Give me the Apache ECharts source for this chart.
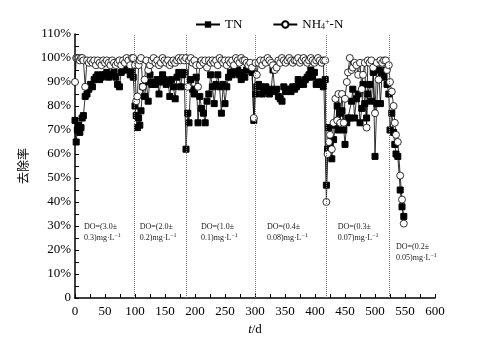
<!DOCTYPE html>
<html><head><meta charset="utf-8">
<script src="https://cdn.jsdelivr.net/npm/echarts@6/dist/echarts.min.js"></script>
<style>html,body{margin:0;padding:0;background:#fff}#c{width:498px;height:348px}</style>
</head><body><div id="c"></div>
<script>
// Section 1: DO 3.0
const days1 = [0,2,4,6,8,10,12,14,17,20,23,26,29,32,35,38,41,44,47,50,53,56,59,62,65,68,71,74,77,80,83,86,89,92,95,97];
const tn1   = [74,65,70,72,69,71,75,76,84,85,87,89,88,91,92,93,91,92,93,93,94,92,93,93,94,92,89,88,94,95,96,95,96,93,95,92];
const nh1   = [90,100,100,100,99,100,100,99,88,99,98,99,98,99,97,99,98,97,99,98,99,98,97,99,98,97,98,99,97,99,98,100,99,97,100,100];
// Section 2: DO 2.0
const days2 = [100,102,104,106,108,110,113,116,119,122,125,128,131,134,137,140,143,146,149,152,155,158,161,164,167,170,173,176,179,182,185];
const tn2   = [80,76,71,75,72,78,88,84,90,82,93,89,90,89,91,85,90,93,91,89,90,84,91,88,83,92,94,88,93,94,62];
const nh2   = [97,82,84,97,99,100,88,91,99,95,97,99,100,98,99,97,98,100,99,98,99,97,98,99,98,99,100,99,100,99,100];
// Section 3: DO 1.0
const days3 = [188,190,193,196,199,202,205,208,211,214,217,220,223,226,229,232,235,238,241,244,247,250,253,256,259,262,265,268,271,274,277,280,283,286,289,292,295,298];
const tn3   = [77,73,91,87,85,92,73,84,79,77,73,82,85,93,88,81,89,93,88,77,89,81,88,92,94,93,95,94,95,93,91,94,92,95,96,95,94,74];
const nh3   = [88,99,100,98,99,97,88,97,99,98,99,96,99,98,99,98,99,97,100,99,98,99,97,99,98,99,97,100,99,98,100,99,99,98,97,98,96,75];
// Section 4: DO 0.4
const days4 = [301,303,306,309,312,315,318,321,324,327,330,333,336,339,342,345,348,351,354,357,360,363,366,369,372,375,378,381,384,387,390,393,396,399,402,405,408,411,414,417];
const tn4   = [85,88,89,88,85,87,88,86,85,87,95,86,87,84,83,82,88,86,87,87,86,88,87,88,91,89,90,89,91,92,93,95,92,94,89,90,89,90,88,91];
const nh4s4 = [98,93,98,99,97,99,98,100,99,98,97,95,96,99,98,100,99,98,99,100,99,98,99,99,100,98,99,100,99,98,99,100,99,98,99,100,99,98,99,99];
// Section 5: DO 0.3
const days5 = [419,421,423,425,428,431,434,437,439,442,445,448,450,453,455,458,461,463,466,469,472,475,478,480,483,486,488,491,494,497,500,503,506,509,512,515,518,520,523];
const tn5   = [47,62,71,64,58,66,72,80,70,77,78,70,64,73,75,75,82,87,75,83,85,73,79,89,81,75,85,89,82,94,59,81,95,81,94,92,95,89,85];
const nh5   = [40,60,65,68,62,73,83,74,85,73,85,73,83,90,94,100,95,96,98,97,93,98,87,93,98,71,99,98,99,96,77,98,91,99,98,99,99,95,97];
// Section 6: DO 0.2
const days6 = [525,528,531,533,535,538,542,545,548];
const tn6   = [70,77,69,64,60,59,45,38,34];
const nh6   = [90,86,80,73,68,65,51,41,31];

const phaseBounds = [98,185,300,418,523];
const annX = [15,108,210,320,438,535];
const annY = [27.5,27.5,27.5,27.5,27.5,19];
const annText = [
  'DO=(3.0±\n0.3)mg·L{s|−1}',
  'DO=(2.0±\n0.2)mg·L{s|−1}',
  'DO=(1.0±\n0.1)mg·L{s|−1}',
  'DO=(0.4±\n0.08)mg·L{s|−1}',
  'DO=(0.3±\n0.07)mg·L{s|−1}',
  'DO=(0.2±\n0.05)mg·L{s|−1}'
];

const days = [].concat(days1,days2,days3,days4,days5,days6);
const tn = [].concat(tn1,tn2,tn3,tn4,tn5,tn6);
const nh = [].concat(nh1,nh2,nh3,nh4s4,nh5,nh6);
const tnData = days.map((d,i)=>[d,tn[i]]);
const nhData = days.map((d,i)=>[d,nh[i]]);

const serif = 'Liberation Serif';
const chart = echarts.init(document.getElementById('c'), null, {renderer:'canvas'});
chart.setOption({
  animation:false,
  backgroundColor:'#fff',
  textStyle:{fontFamily:serif,color:'#000'},
  grid:{left:75,right:63,top:34,bottom:50},
  legend:{
    top:13,left:190,itemGap:30,itemWidth:24,itemHeight:8,
    textStyle:{fontFamily:serif,fontSize:13,color:'#000',
      rich:{sub:{fontSize:8,fontFamily:serif,lineHeight:8,verticalAlign:'bottom'},
            sup:{fontSize:8,fontFamily:serif,lineHeight:8,verticalAlign:'top'}}},
    formatter:n=> n==='TN' ? 'TN' : 'NH{sub|4}{sup|+}-N',
    data:['TN','NH4+-N']
  },
  xAxis:{
    type:'value',min:0,max:600,interval:50,
    name:'{i|t}/d',nameLocation:'middle',nameGap:23,
    nameTextStyle:{fontFamily:serif,fontSize:13,color:'#000',rich:{i:{fontStyle:'italic',fontFamily:serif,fontSize:13}}},
    axisLine:{lineStyle:{color:'#000',width:1.5}},
    axisTick:{inside:true,length:4,lineStyle:{color:'#000'}},
    minorTick:{show:true,splitNumber:2,length:4,lineStyle:{color:'#000'}},
    axisLabel:{fontFamily:serif,fontSize:13,color:'#000',margin:7},
    splitLine:{show:false}
  },
  yAxis:{
    type:'value',min:0,max:110,interval:10,
    name:'去除率',nameLocation:'middle',nameRotate:90,nameGap:38,
    nameTextStyle:{fontFamily:'Noto Sans CJK SC',fontSize:12,color:'#000'},
    axisLine:{show:true,lineStyle:{color:'#000',width:1.5}},
    axisTick:{show:true,inside:true,length:4,lineStyle:{color:'#000'}},
    minorTick:{show:true,splitNumber:2,length:4,lineStyle:{color:'#000'}},
    axisLabel:{fontFamily:serif,fontSize:13,color:'#000',margin:4,formatter:v=>v===0?'0':v+'%'},
    splitLine:{show:false}
  },
  series:[
    {
      name:'TN',type:'line',data:tnData,symbol:'rect',symbolSize:6,
      itemStyle:{color:'#000',borderColor:'#000'},
      lineStyle:{color:'#000',width:0.8},
      markLine:{silent:true,symbol:'none',label:{show:false},
        lineStyle:{color:'#777',type:'dotted',width:1},
        data:phaseBounds.map(x=>({xAxis:x}))},
      markPoint:{silent:true,symbol:'circle',symbolSize:0,
        label:{show:true,position:'inside',align:'left',verticalAlign:'middle',
          fontFamily:serif,fontSize:8,lineHeight:11,color:'#222',formatter:p=>p.name,
          rich:{s:{fontSize:6,fontFamily:serif,color:'#222',lineHeight:6,verticalAlign:'top'}}},
        data:annX.map((x,i)=>({name:annText[i],coord:[x,annY[i]]}))}
    },
    {
      name:'NH4+-N',type:'line',data:nhData,symbol:'circle',symbolSize:7,
      itemStyle:{color:'#fff',borderColor:'#000',borderWidth:0.8},
      lineStyle:{color:'#000',width:0.8}
    }
  ]
});
</script></body></html>
